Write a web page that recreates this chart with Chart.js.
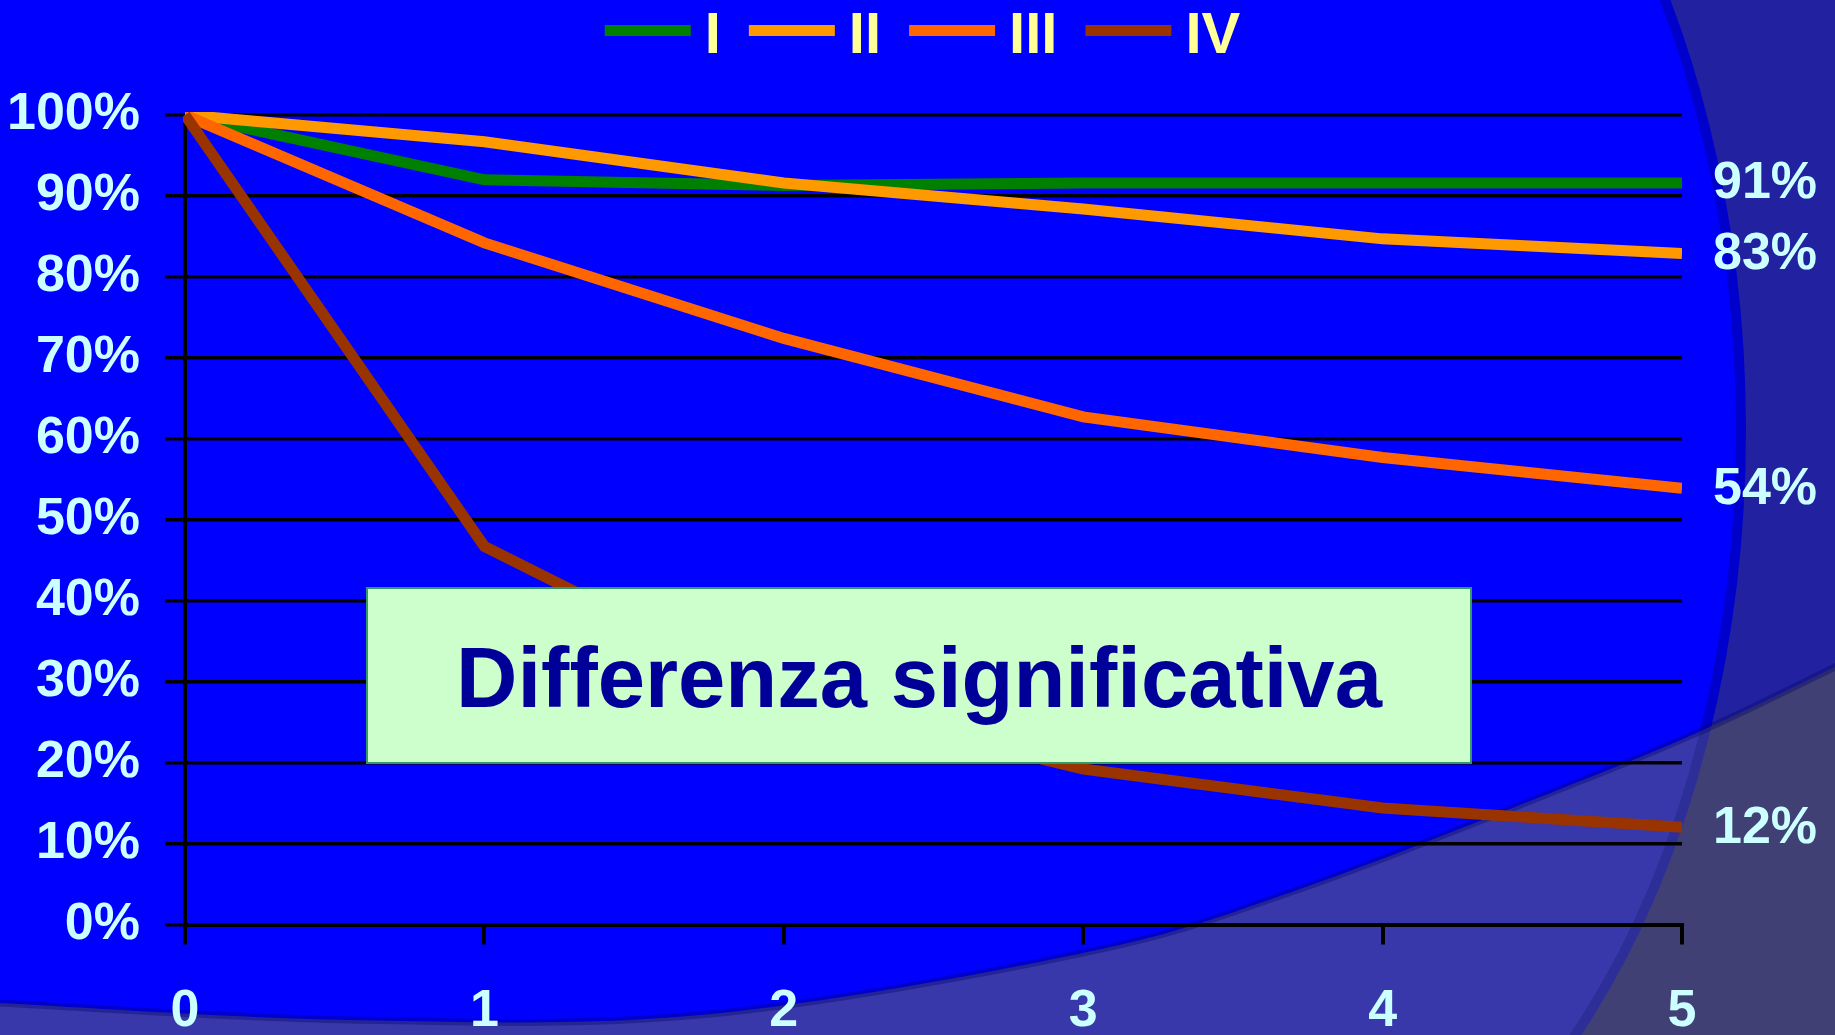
<!DOCTYPE html>
<html lang="it">
<head>
  <meta charset="utf-8">
  <title>Sopravvivenza per stadio</title>
  <script src="https://cdn.jsdelivr.net/npm/chart.js"></script>
  <style>
    html, body { margin: 0; padding: 0; background: #2222A0; overflow: hidden; }
    canvas { display: block; }
  </style>
</head>
<body>
  <canvas id="grafico" width="1835" height="1035"></canvas>
<script>
  // dati (% sopravvivenza per anno)
  const anni = ['0', '1', '2', '3', '4', '5'];
  const stadioI   = [100, 92.0, 91.3, 91.6, 91.6, 91.6];
  const stadioII  = [100, 96.7, 91.6, 88.4, 84.7, 82.9];
  const stadioIII = [100, 84.2, 72.4, 62.7, 57.7, 53.9];
  const stadioIV  = [100, 46.7, 28.2, 19.2, 14.4, 12.0];
  const nomiSerie = ['I', 'II', 'III', 'IV'];
  const etichetteFinali = ['91%', '83%', '54%', '12%'];
  const colori = ['#008000', '#FF9900', '#FF6600', '#993300'];

  const FONT = "'Liberation Sans', Arial, sans-serif";
  const azzurro = '#CCFFFF';

  // curva morbida che passa per i punti (catmull-rom)
  function curva(ctx, pts) {
    ctx.moveTo(pts[0][0], pts[0][1]);
    for (let i = 0; i < pts.length - 1; i++) {
      const p0 = pts[i - 1] || pts[i], p1 = pts[i], p2 = pts[i + 1], p3 = pts[i + 2] || p2;
      ctx.bezierCurveTo(
        p1[0] + (p2[0] - p0[0]) / 6, p1[1] + (p2[1] - p0[1]) / 6,
        p2[0] - (p3[0] - p1[0]) / 6, p2[1] - (p3[1] - p1[1]) / 6,
        p2[0], p2[1]);
    }
  }

  // arco a destra: mezza ellisse
  function arco(ctx) {
    ctx.ellipse(1214, 430, 527, 831, 0, -Math.PI / 2, Math.PI / 2);
  }
  function fuoriArco(ctx) {
    ctx.beginPath();
    arco(ctx);
    ctx.lineTo(1900, 1261);
    ctx.lineTo(1900, -401);
    ctx.closePath();
  }

  const bordoBasso = [[-20, 1002], [0, 1003], [350, 1020], [700, 1015], [1083, 953],
                      [1300, 889], [1583, 780], [1710, 727], [1835, 667], [1860, 655]];

  const sfondo = {
    id: 'sfondo',
    beforeDraw(chart) {
      const ctx = chart.ctx, W = chart.width, H = chart.height;
      ctx.save();
      ctx.fillStyle = '#0000FF';
      ctx.fillRect(0, 0, W, H);

      fuoriArco(ctx);
      ctx.fillStyle = '#2222A0';
      ctx.fill();

      ctx.beginPath();
      arco(ctx);
      ctx.strokeStyle = '#0000CC';
      ctx.lineWidth = 10;
      ctx.stroke();

      // fascia in basso
      ctx.save();
      ctx.beginPath();
      curva(ctx, bordoBasso);
      ctx.lineTo(1860, 1080);
      ctx.lineTo(-20, 1080);
      ctx.closePath();
      ctx.clip();
      ctx.fillStyle = '#3838AA';
      ctx.fillRect(0, 0, W, H);
      fuoriArco(ctx);
      ctx.fillStyle = '#404075';
      ctx.fill();
      ctx.beginPath();
      arco(ctx);
      ctx.strokeStyle = '#2E2E98';
      ctx.lineWidth = 10;
      ctx.stroke();
      ctx.restore();

      ctx.beginPath();
      curva(ctx, bordoBasso);
      ctx.strokeStyle = 'rgba(0,0,110,0.35)';
      ctx.lineWidth = 7;
      ctx.stroke();
      ctx.restore();
    }
  };

  const legenda = {
    id: 'legenda',
    afterDraw(chart) {
      const ctx = chart.ctx;
      ctx.save();
      ctx.font = 'bold 58px ' + FONT;
      const campione = 86, spazio = 14, gap = 28;
      const larghezze = chart.data.datasets.map(d => ctx.measureText(d.label).width);
      let tot = larghezze.reduce((a, b) => a + b, 0) + chart.data.datasets.length * (campione + spazio)
        + (chart.data.datasets.length - 1) * gap;
      let x = (chart.width - tot) / 2 + 5;
      chart.data.datasets.forEach((d, i) => {
        ctx.fillStyle = d.borderColor;
        ctx.fillRect(x, 25, campione, 11);
        ctx.fillStyle = '#FFFF99';
        ctx.textBaseline = 'alphabetic';
        ctx.textAlign = 'left';
        ctx.fillText(d.label, x + campione + spazio, 53);
        x += campione + spazio + larghezze[i] + gap;
      });
      ctx.restore();
    }
  };

  const etichette = {
    id: 'etichette',
    afterDatasetsDraw(chart) {
      const ctx = chart.ctx;
      ctx.save();
      ctx.font = 'bold 52px ' + FONT;
      ctx.fillStyle = azzurro;
      ctx.textBaseline = 'middle';
      ctx.textAlign = 'left';
      chart.data.datasets.forEach((d, i) => {
        const pts = chart.getDatasetMeta(i).data;
        const p = pts[pts.length - 1];
        ctx.fillText(etichetteFinali[i], p.x + 31, p.y + 1);
      });
      ctx.restore();
    }
  };

  const riquadro = {
    id: 'riquadro',
    afterDatasetsDraw(chart) {
      const ctx = chart.ctx;
      ctx.save();
      ctx.fillStyle = '#CCFFCC';
      ctx.fillRect(367, 588, 1104, 175);
      ctx.strokeStyle = '#339966';
      ctx.lineWidth = 2;
      ctx.strokeRect(367, 588, 1104, 175);
      ctx.font = 'bold 85px ' + FONT;
      ctx.fillStyle = '#000099';
      ctx.textAlign = 'center';
      ctx.textBaseline = 'alphabetic';
      ctx.fillText('Differenza significativa', 919, 707);
      ctx.restore();
    }
  };

  const serie = [stadioI, stadioII, stadioIII, stadioIV];
  const datasets = serie.map((valori, i) => ({
    label: nomiSerie[i],
    data: valori,
    borderColor: colori[i],
    backgroundColor: colori[i],
    borderWidth: 11,
    pointRadius: 0,
    tension: 0,
    fill: false,
    order: 4 - i,
    clip: { left: 2, top: 3, right: 0, bottom: 10 }
  }));

  const tickFont = { family: FONT, size: 52, weight: 'bold' };

  const grafico = new Chart(document.getElementById('grafico'), {
    type: 'line',
    data: { labels: anni, datasets: datasets },
    options: {
      responsive: false,
      animation: false,
      layout: { padding: { top: 115, right: 153, left: 0, bottom: 0 } },
      plugins: { legend: { display: false }, tooltip: { enabled: false } },
      scales: {
        x: {
          offset: false,
          grid: { drawOnChartArea: false, color: '#000', lineWidth: 4, tickLength: 20 },
          border: { color: '#000', width: 4 },
          ticks: { color: azzurro, font: tickFont, padding: 36, maxRotation: 0, autoSkip: false },
          afterFit: s => { s.height = 110.5; }
        },
        y: {
          min: 0,
          max: 100,
          grid: { color: '#000', lineWidth: 3.5, tickLength: 20 },
          border: { color: '#000', width: 4 },
          ticks: { stepSize: 10, color: azzurro, font: tickFont, padding: 25,
                   callback: v => v + '%' },
          afterFit: s => { s.width = 185; }
        }
      }
    },
    plugins: [sfondo, riquadro, etichette, legenda]
  });
</script>
</body>
</html>
